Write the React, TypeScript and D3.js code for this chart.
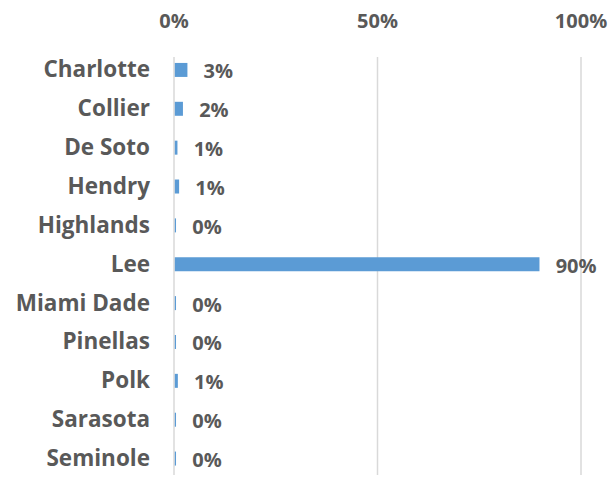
import React from "react";
import * as d3 from "d3";

const categories = ["Charlotte", "Collier", "De Soto", "Hendry", "Highlands", "Lee", "Miami Dade", "Pinellas", "Polk", "Sarasota", "Seminole"];
const values = [0.031, 0.02, 0.0065, 0.0106, 0.003, 0.896, 0.003, 0.003, 0.0075, 0.003, 0.003];
const valueLabels = ["3%", "2%", "1%", "1%", "0%", "90%", "0%", "0%", "1%", "0%", "0%"];
const ticks = [0, 0.5, 1];

const W = 608, H = 477;
const FONT = "'Open Sans', sans-serif";
const GRAY = "#595959";

export default function App() {
  const x = d3.scaleLinear().domain([0, 1]).range([174, 581]);
  const y = d3.scaleBand().domain(categories).range([50.5, 478]).paddingInner(0.64).paddingOuter(0.32);
  const fmt = d3.format(".0%");
  return (
    <svg width={W} height={H} style={{ position: "absolute", left: 0, top: 0, background: "#fff" }}>
      {ticks.map((t) => (
        <g key={t}>
          <line x1={x(t)} x2={x(t)} y1={57} y2={475} stroke="#D9D9D9" strokeWidth={1.5} />
          <text x={x(t)} y={28} textAnchor="middle" fontFamily={FONT} fontWeight="bold" fontSize={20} fill={GRAY}>{fmt(t)}</text>
        </g>
      ))}
      {categories.map((c, i) => {
        const cy = (y(c) as number) + y.bandwidth() / 2;
        return (
          <g key={c}>
            <rect x={x(0) + 0.8} y={y(c)} width={Math.max(0, x(values[i]) - x(0))} height={y.bandwidth()} fill="#5B9BD5" />
            <text x={150} y={cy + 7.5} textAnchor="end" fontFamily={FONT} fontWeight="bold" fontSize={22.5} fill={GRAY}>{c}</text>
            <text x={x(values[i]) + 17} y={cy + 8.5} textAnchor="start" fontFamily={FONT} fontWeight="bold" fontSize={20} fill={GRAY}>{valueLabels[i]}</text>
          </g>
        );
      })}
    </svg>
  );
}
